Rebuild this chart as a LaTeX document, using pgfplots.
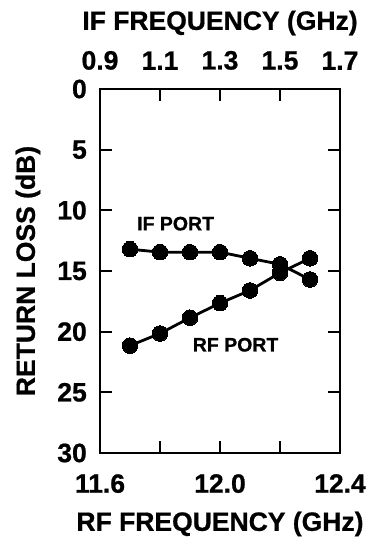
\documentclass[border=0pt]{standalone}
\usepackage{fontspec}
\setmainfont[BoldFeatures={FakeBold=0.8}]{Liberation Sans}
\usepackage{pgfplots}
\pgfplotsset{compat=1.18}
\newcommand\lab{\bfseries\fontsize{26.5}{31}\selectfont}
\newcommand\plab{\bfseries\fontsize{19.5}{23}\selectfont}
\begin{document}
\begin{tikzpicture}
\pgfplotsset{common/.style={
  at={(0pt,0pt)}, anchor=south west, scale only axis, width=240pt, height=364pt,
  ymin=0, ymax=30, y dir=reverse,
  tick align=inside, major tick length=12pt,
  axis line style={line width=2pt},
  every tick/.style={line width=2pt, black},
  /pgf/number format/assume math mode=true,
  tick label style={font=\lab},
  clip=false}}
\begin{axis}[common,
  xmin=11.6, xmax=12.4,
  xtick={11.6,11.8,12.0,12.2,12.4}, xticklabels={11.6,,12.0,,12.4},
  xtick pos=left,
  ytick={0,5,10,15,20,25,30}, yticklabels={0,5,10,15,20,25,30}, ytick pos=both,
  xticklabel style={anchor=north, inner sep=0pt, yshift=-21pt},
  yticklabel style={anchor=east, inner sep=0pt, xshift=-13pt}]
\addplot[black, line width=2.8pt, mark=*, mark size=7.8pt, mark options={fill=black, line width=0pt}]
  coordinates {(11.7,13.2) (11.8,13.45) (11.9,13.45) (12.0,13.45) (12.1,13.95) (12.2,14.45) (12.3,15.7)};
\addplot[black, line width=2.8pt, mark=*, mark size=7.8pt, mark options={fill=black, line width=0pt}]
  coordinates {(11.7,21.15) (11.8,20.15) (11.9,18.85) (12.0,17.65) (12.1,16.6) (12.2,15.15) (12.3,13.95)};
\node[font=\plab] at (axis cs:11.852,11.1) {IF PORT};
\node[font=\plab] at (axis cs:12.052,21.08) {RF PORT};
\end{axis}
\begin{axis}[common,
  xmin=0.9, xmax=1.7, hide y axis,
  xtick={0.9,1.1,1.3,1.5,1.7}, xticklabels={0.9,1.1,1.3,1.5,1.7},
  xtick pos=right, xticklabel pos=right,
  xticklabel style={anchor=south, inner sep=0pt, yshift=19pt}]
\end{axis}
\node[font=\lab] at (120pt,430pt) {IF FREQUENCY (GHz)};
\node[font=\lab] at (120pt,-71pt) {RF FREQUENCY (GHz)};
\node[font=\lab, rotate=90] at (-72pt,182pt) {RETURN LOSS (dB)};
\pgfresetboundingbox
\useasboundingbox (-100pt,-87pt) rectangle (267pt,453pt);
\end{tikzpicture}
\end{document}
